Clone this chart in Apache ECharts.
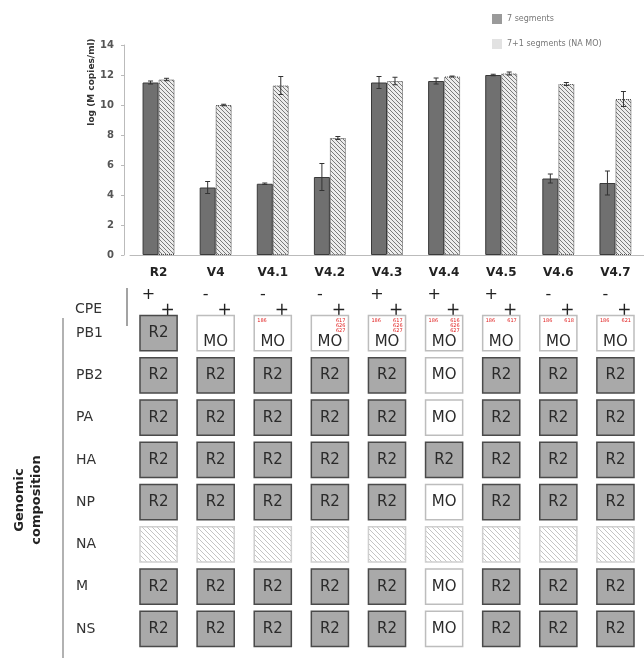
<!DOCTYPE html>
<html>
<head>
    <meta charset="UTF-8">
    <title>Viral titre and genomic composition</title>
    <script type="text/javascript" src="https://cdn.jsdelivr.net/npm/echarts@6/dist/echarts.min.js"></script>
    <style>
        *{margin:0;padding:0}
        html,body{width:100%;height:100%;background:#fff}
        #main{width:644px;height:672px}
    </style>
</head>
<body>
<div id="main"></div>
<script type="text/javascript">
    // variants (columns)
    var variants = ['R2', 'V4', 'V4.1', 'V4.2', 'V4.3', 'V4.4', 'V4.5', 'V4.6', 'V4.7'];
    // log (M copies/ml), mean and error
    var seg7 = [11.5, 4.5, 4.75, 5.2, 11.5, 11.6, 12.0, 5.1, 4.8];
    var seg7Err = [0.1, 0.4, 0.05, 0.9, 0.4, 0.2, 0.05, 0.3, 0.8];
    var seg8 = [11.7, 10.0, 11.3, 7.8, 11.6, 11.9, 12.1, 11.4, 10.4];
    var seg8Err = [0.08, 0.05, 0.6, 0.1, 0.25, 0.03, 0.1, 0.1, 0.5];
    var seriesNames = ['7 segments', '7+1 segments (NA MO)'];

    // CPE: 7 segments / 7+1 segments
    var cpe7 = ['+', '-', '-', '-', '+', '+', '+', '-', '-'];
    var cpe8 = ['+', '+', '+', '+', '+', '+', '+', '+', '+'];

    // genomic composition
    var segments = ['PB1', 'PB2', 'PA', 'HA', 'NP', 'NA', 'M', 'NS'];
    var composition = [
        ['R2', 'MO', 'MO', 'MO', 'MO', 'MO', 'MO', 'MO', 'MO'],
        ['R2', 'R2', 'R2', 'R2', 'R2', 'MO', 'R2', 'R2', 'R2'],
        ['R2', 'R2', 'R2', 'R2', 'R2', 'MO', 'R2', 'R2', 'R2'],
        ['R2', 'R2', 'R2', 'R2', 'R2', 'R2', 'R2', 'R2', 'R2'],
        ['R2', 'R2', 'R2', 'R2', 'R2', 'MO', 'R2', 'R2', 'R2'],
        ['NA', 'NA', 'NA', 'NA', 'NA', 'NA', 'NA', 'NA', 'NA'],
        ['R2', 'R2', 'R2', 'R2', 'R2', 'MO', 'R2', 'R2', 'R2'],
        ['R2', 'R2', 'R2', 'R2', 'R2', 'MO', 'R2', 'R2', 'R2']
    ];
    // PB1 mutations (red)
    var pb1Left = ['', '', '186', '', '186', '186', '186', '186', '186'];
    var pb1Right = ['', '', '', '617\n626\n627', '617\n626\n627', '616\n626\n627', '617', '618', '621'];

    var FONT = '"DejaVu Sans", sans-serif';

    // diagonal hatch pattern
    function hatch(bg, fg, size) {
        var c = document.createElement('canvas');
        c.width = c.height = size;
        var ctx = c.getContext('2d');
        ctx.fillStyle = bg;
        ctx.fillRect(0, 0, size, size);
        ctx.strokeStyle = fg;
        ctx.lineWidth = 1;
        ctx.beginPath();
        ctx.moveTo(0, 0); ctx.lineTo(size, size);
        ctx.moveTo(-1, size - 1); ctx.lineTo(1, size + 1);
        ctx.moveTo(size - 1, -1); ctx.lineTo(size + 1, 1);
        ctx.stroke();
        return {image: c, repeat: 'repeat'};
    }
    var barHatch = hatch('#ececec', '#7a7a7a', 4);
    var cellHatch = hatch('#ffffff', '#c4c4c4', 5);

    var BAR_W = 0.28;

    function errorSeries(vals, errs, side) {
        return {
            type: 'custom',
            xAxisIndex: 0,
            yAxisIndex: 0,
            z: 5,
            silent: true,
            data: vals.map(function (v, i) { return [i, v - errs[i], v + errs[i]]; }),
            renderItem: function (params, api) {
                var lo = api.coord([api.value(0), api.value(1)]);
                var hi = api.coord([api.value(0), api.value(2)]);
                var bw = api.size([1, 0])[0] * BAR_W;
                var x = lo[0] + side * bw / 2;
                var st = {stroke: '#333', lineWidth: 1};
                return {
                    type: 'group',
                    children: [
                        {type: 'line', shape: {x1: x, y1: lo[1], x2: x, y2: hi[1]}, style: st},
                        {type: 'line', shape: {x1: x - 2.5, y1: lo[1], x2: x + 2.5, y2: lo[1]}, style: st},
                        {type: 'line', shape: {x1: x - 2.5, y1: hi[1], x2: x + 2.5, y2: hi[1]}, style: st}
                    ]
                };
            }
        };
    }

    var cpeData = variants.map(function (v, i) { return [i, 0]; });
    var cellData = [];
    segments.forEach(function (s, r) {
        variants.forEach(function (v, c) { cellData.push([c, r]); });
    });

    var option = {
        animation: false,
        legend: {
            orient: 'vertical',
            left: 487,
            top: 9,
            itemGap: 15,
            itemWidth: 10,
            itemHeight: 10,
            icon: 'rect',
            textStyle: {fontSize: 8, color: '#777', fontFamily: FONT},
            data: [
                {name: seriesNames[0], itemStyle: {color: '#9a9a9a', borderWidth: 0}},
                {name: seriesNames[1], itemStyle: {color: '#e2e2e2', borderWidth: 0}}
            ]
        },
        grid: [
            {left: 130, width: 518, top: 45, height: 210},
            {left: 130, width: 518, top: 287, height: 44},
            {left: 130, width: 518, top: 312, height: 338}
        ],
        xAxis: [
            {
                gridIndex: 0, type: 'category', data: variants,
                axisLine: {lineStyle: {color: '#bbb'}},
                axisTick: {length: 3, lineStyle: {color: '#bbb'}},
                axisLabel: {margin: 12, fontSize: 12, fontWeight: 'bold', color: '#222', fontFamily: FONT}
            },
            {gridIndex: 1, type: 'category', data: variants, show: false},
            {gridIndex: 2, type: 'category', data: variants, show: false}
        ],
        yAxis: [
            {
                gridIndex: 0, type: 'value', min: 0, max: 14, interval: 2, offset: 6,
                axisLine: {show: true, lineStyle: {color: '#bbb'}},
                axisTick: {show: true, length: 3, lineStyle: {color: '#bbb'}},
                splitLine: {show: false},
                axisLabel: {margin: 10, fontSize: 10, fontWeight: 'bold', color: '#555', fontFamily: FONT}
            },
            {
                gridIndex: 1, type: 'category', data: ['CPE'],
                axisLine: {show: false}, axisTick: {show: false},
                axisLabel: {align: 'left', margin: 55, fontSize: 14, color: '#333', fontFamily: FONT}
            },
            {
                gridIndex: 2, type: 'category', data: segments, inverse: true,
                axisLine: {show: false}, axisTick: {show: false},
                axisLabel: {align: 'left', margin: 54, fontSize: 14, color: '#333', fontFamily: FONT}
            }
        ],
        graphic: [
            {
                type: 'text', x: 92, y: 82, rotation: Math.PI / 2,
                style: {text: 'log (M copies/ml)', font: 'bold 9px ' + FONT, fill: '#333', align: 'center', verticalAlign: 'middle'}
            },
            {
                type: 'text', x: 28, y: 500, rotation: Math.PI / 2,
                style: {text: 'Genomic\ncomposition', font: 'bold 13px ' + FONT, fill: '#222', align: 'center', verticalAlign: 'middle', lineHeight: 17}
            },
            {type: 'line', shape: {x1: 63, y1: 318, x2: 63, y2: 658}, style: {stroke: '#999', lineWidth: 1.5}},
            {type: 'line', shape: {x1: 127, y1: 288, x2: 127, y2: 326}, style: {stroke: '#666', lineWidth: 1.2}}
        ],
        series: [
            {
                name: seriesNames[0], type: 'bar', xAxisIndex: 0, yAxisIndex: 0,
                data: seg7, barWidth: (BAR_W * 100) + '%', barGap: '0%',
                itemStyle: {color: '#707070', borderColor: '#3a3a3a', borderWidth: 1}
            },
            {
                name: seriesNames[1], type: 'bar', xAxisIndex: 0, yAxisIndex: 0,
                data: seg8, barWidth: (BAR_W * 100) + '%', barGap: '0%',
                itemStyle: {color: barHatch, borderColor: '#444', borderWidth: 1, borderType: 'dotted'}
            },
            errorSeries(seg7, seg7Err, -1),
            errorSeries(seg8, seg8Err, 1),
            {
                type: 'custom', xAxisIndex: 1, yAxisIndex: 1, silent: true,
                data: cpeData,
                renderItem: function (params, api) {
                    var p = api.coord([api.value(0), api.value(1)]);
                    var i = params.dataIndex;
                    return {
                        type: 'group',
                        children: [
                            {type: 'text', x: p[0] - 10, y: p[1] - 14,
                             style: {text: cpe7[i], font: '16px ' + FONT, fill: '#222', align: 'center', verticalAlign: 'middle'}},
                            {type: 'text', x: p[0] + 9, y: p[1] + 2,
                             style: {text: cpe8[i], font: '17px ' + FONT, fill: '#222', align: 'center', verticalAlign: 'middle'}}
                        ]
                    };
                }
            },
            {
                type: 'custom', xAxisIndex: 2, yAxisIndex: 2, silent: true,
                data: cellData,
                renderItem: function (params, api) {
                    var c = api.value(0), r = api.value(1);
                    var p = api.coord([c, r]);
                    var sz = api.size([1, 1]);
                    var w = sz[0] * 0.65, h = sz[1] * 0.83;
                    var kind = composition[r][c];
                    var x0 = p[0] - w / 2, y0 = p[1] - h / 2;
                    var children = [];
                    if (kind === 'R2') {
                        children.push({type: 'rect', shape: {x: x0, y: y0, width: w, height: h},
                            style: {fill: '#a9a9a9', stroke: '#4a4a4a', lineWidth: 1.5}});
                        children.push({type: 'text', x: p[0], y: p[1],
                            style: {text: 'R2', font: '15px ' + FONT, fill: '#2a2a2a', align: 'center', verticalAlign: 'middle'}});
                    } else if (kind === 'MO') {
                        var low = r === 0;
                        children.push({type: 'rect', shape: {x: x0, y: y0, width: w, height: h},
                            style: {fill: '#fff', stroke: '#bdbdbd', lineWidth: 1.5}});
                        children.push({type: 'text', x: p[0], y: low ? y0 + h - 1 : p[1],
                            style: {text: 'MO', font: '15px ' + FONT, fill: '#2a2a2a', align: 'center', verticalAlign: low ? 'bottom' : 'middle'}});
                        if (low) {
                            children.push({type: 'text', x: x0 + 3, y: y0 + 3,
                                style: {text: pb1Left[c], font: '5px ' + FONT, fill: '#e02020', align: 'left', verticalAlign: 'top'}});
                            children.push({type: 'text', x: x0 + w - 3, y: y0 + 3,
                                style: {text: pb1Right[c], font: '5px ' + FONT, fill: '#e02020', align: 'right', verticalAlign: 'top', lineHeight: 5}});
                        }
                    } else {
                        children.push({type: 'rect', shape: {x: x0, y: y0, width: w, height: h},
                            style: {fill: cellHatch, stroke: '#cfcfcf', lineWidth: 1.5}});
                    }
                    return {type: 'group', children: children};
                }
            }
        ]
    };

    var myChart = echarts.init(document.getElementById('main'));
    myChart.setOption(option);
</script>
</body>
</html>
